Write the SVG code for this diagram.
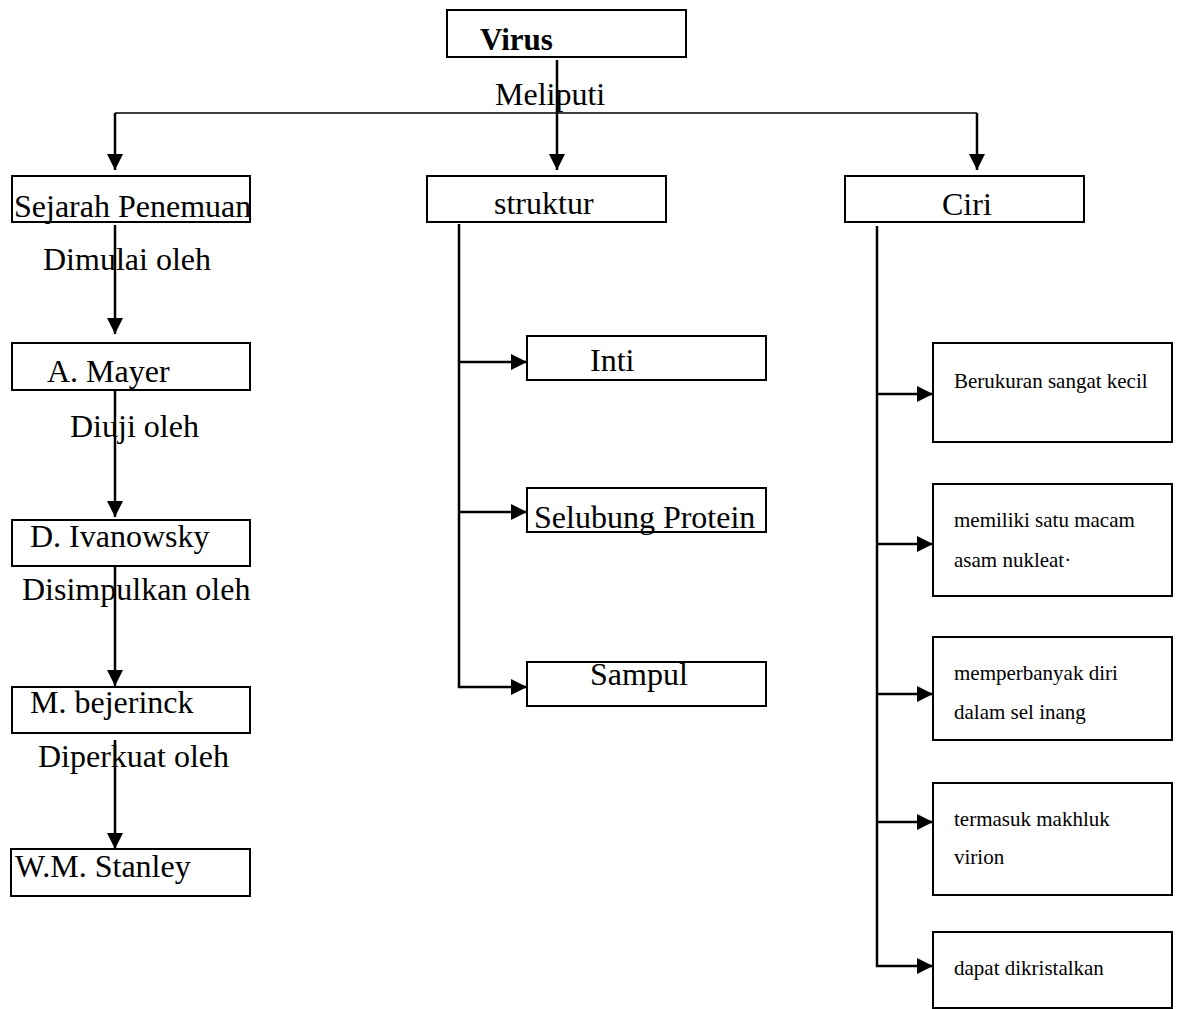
<svg xmlns="http://www.w3.org/2000/svg" width="1181" height="1009" viewBox="0 0 1181 1009">
<style>
.box{fill:#fff;stroke:#000;stroke-width:2}
.t{font-family:"Liberation Serif","Times New Roman",serif;font-size:32px;fill:#000}
.b{font-weight:bold;font-size:31px}
.s{font-family:"Liberation Serif","Times New Roman",serif;font-size:21px;fill:#000}
.c{fill:none;stroke:#000;stroke-width:2.5}
.thin{fill:none;stroke:#000;stroke-width:1.5}
</style>
<defs>
<marker id="ah" markerUnits="userSpaceOnUse" markerWidth="17" markerHeight="17" refX="16" refY="8" orient="auto">
<path d="M0,0 L16,8 L0,16 z" fill="#000"/>
</marker>
</defs>
<rect width="1181" height="1009" fill="#fff"/>
<g id="connectors">
<path class="thin" d="M115,113 H977"/>
<path class="c" d="M115,113 V170" marker-end="url(#ah)"/>
<path class="c" d="M977,113 V170" marker-end="url(#ah)"/>
<path class="c" d="M557,60 V170" marker-end="url(#ah)"/>
<path class="c" d="M115,225 V334" marker-end="url(#ah)"/>
<path class="c" d="M115,388 V517" marker-end="url(#ah)"/>
<path class="c" d="M115,566 V686" marker-end="url(#ah)"/>
<path class="c" d="M115,740 V849" marker-end="url(#ah)"/>
<path class="c" d="M459,224 V687 H527" marker-end="url(#ah)"/>
<path class="c" d="M459,362 H527" marker-end="url(#ah)"/>
<path class="c" d="M459,512 H527" marker-end="url(#ah)"/>
<path class="c" d="M877,226 V966 H933" marker-end="url(#ah)"/>
<path class="c" d="M877,394 H933" marker-end="url(#ah)"/>
<path class="c" d="M877,544 H933" marker-end="url(#ah)"/>
<path class="c" d="M877,694 H933" marker-end="url(#ah)"/>
<path class="c" d="M877,822 H933" marker-end="url(#ah)"/>
</g>
<g id="virus"><rect class="box" x="447" y="10" width="239" height="47"/><text class="t b" x="480" y="50">Virus</text></g>
<text class="t" x="495" y="105">Meliputi</text>
<g id="sejarah"><rect class="box" x="12" y="176" width="238" height="46"/><text class="t" x="14" y="217">Sejarah Penemuan</text></g>
<g id="struktur"><rect class="box" x="427" y="176" width="239" height="46"/><text class="t" x="494" y="214">struktur</text></g>
<g id="ciri"><rect class="box" x="845" y="176" width="239" height="46"/><text class="t" x="942" y="215">Ciri</text></g>
<text class="t" x="43" y="270">Dimulai oleh</text>
<g id="mayer"><rect class="box" x="12" y="343" width="238" height="47"/><text class="t" x="47" y="382">A. Mayer</text></g>
<text class="t" x="70" y="437">Diuji oleh</text>
<g id="ivanowsky"><rect class="box" x="12" y="520" width="238" height="46"/><text class="t" x="30" y="547">D. Ivanowsky</text></g>
<text class="t" x="22" y="600">Disimpulkan oleh</text>
<g id="bejerinck"><rect class="box" x="12" y="687" width="238" height="46"/><text class="t" x="30" y="713">M. bejerinck</text></g>
<text class="t" x="38" y="767">Diperkuat oleh</text>
<g id="stanley"><rect class="box" x="11" y="849" width="239" height="47"/><text class="t" x="15" y="877">W.M. Stanley</text></g>
<g id="inti"><rect class="box" x="527" y="336" width="239" height="44"/><text class="t" x="590" y="371">Inti</text></g>
<g id="selubung"><rect class="box" x="527" y="488" width="239" height="44"/><text class="t" x="534" y="528">Selubung Protein</text></g>
<g id="sampul"><rect class="box" x="527" y="662" width="239" height="44"/><text class="t" x="590" y="685">Sampul</text></g>
<g id="berukuran"><rect class="box" x="933" y="343" width="239" height="99"/><text class="s" x="954" y="388">Berukuran sangat kecil</text></g>
<g id="memiliki"><rect class="box" x="933" y="484" width="239" height="112"/><text class="s" x="954" y="527">memiliki satu macam</text><text class="s" x="954" y="567">asam nukleat·</text></g>
<g id="memperbanyak"><rect class="box" x="933" y="637" width="239" height="103"/><text class="s" x="954" y="680">memperbanyak diri</text><text class="s" x="954" y="719">dalam sel inang</text></g>
<g id="termasuk"><rect class="box" x="933" y="783" width="239" height="112"/><text class="s" x="954" y="826">termasuk makhluk</text><text class="s" x="954" y="864">virion</text></g>
<g id="dapat"><rect class="box" x="933" y="932" width="239" height="76"/><text class="s" x="954" y="975">dapat dikristalkan</text></g>
</svg>
